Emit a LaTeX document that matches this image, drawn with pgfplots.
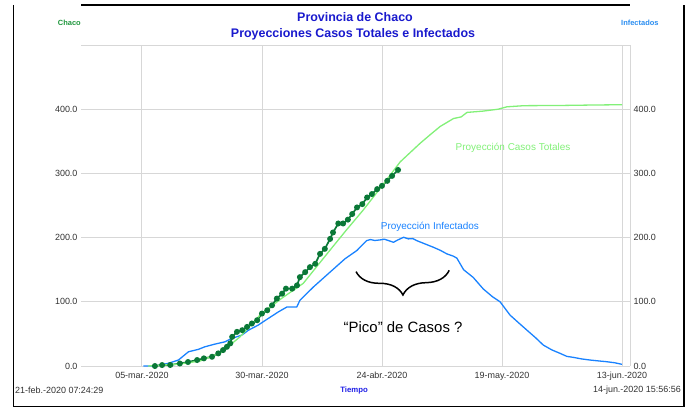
\documentclass[border=0pt]{standalone}
\usepackage{fontspec}
\setmainfont{Liberation Sans}
\usepackage{pgfplots}
\pgfplotsset{compat=1.18}
\usetikzlibrary{decorations.pathreplacing}
\definecolor{titleblue}{RGB}{25,25,205}
\definecolor{dgreen}{RGB}{10,120,55}
\definecolor{lgreen}{RGB}{130,240,120}
\definecolor{pblue}{RGB}{25,130,255}
\definecolor{chacogreen}{RGB}{30,150,60}
\definecolor{infblue}{RGB}{40,140,240}
\definecolor{tiempoblue}{RGB}{30,30,230}
\definecolor{gridgray}{RGB}{215,215,215}
\definecolor{ticktext}{RGB}{50,50,50}
\begin{document}
\begin{tikzpicture}[x=1bp,y=1bp]
\useasboundingbox (0,0) rectangle (694,408);
% outer frame
\draw[black, line width=1.1bp] (13.3,403) -- (13.3,1.3) -- (684,1.3) -- (684,403);
\draw[black, line width=1.1bp] (81,403) -- (630,403);
\begin{axis}[
  at={(81bp,42bp)}, anchor=south west,
  scale only axis, width=549bp, height=321bp,
  xmin=0.309, xmax=114.664, ymin=0, ymax=500,
  axis line style={draw=none},
  major tick length=0pt,
  xtick={13,38,63,88,113},
  xticklabels={05-mar.-2020,30-mar.-2020,24-abr.-2020,19-may.-2020,13-jun.-2020},
  ytick={0,100,200,300,400},
  grid=major,
  grid style={gridgray, line width=0.9bp},
  /pgf/number format/assume math mode=true,
  yticklabel style={font=\fontsize{9}{10}\selectfont, text=ticktext,
    /pgf/number format/fixed, /pgf/number format/fixed zerofill, /pgf/number format/precision=1},
  xticklabel style={font=\fontsize{9}{10}\selectfont, text=ticktext, yshift=-2.5bp},
  clip=false,
]
\draw[gridgray, line width=0.9bp] (rel axis cs:0,1) -- (rel axis cs:1,1) -- (rel axis cs:1,0);
% Proyeccion Infectados
\addplot[pblue, line width=1.3bp] coordinates {
(13.3,0) (15.7,0) (18.5,4.2) (20.6,9.3) (22.7,22.2) (24.75,25.9) (26.1,29.9)
(28.2,34.1) (30.3,37.7) (31.7,42.9) (33.8,48.1) (35.2,55.8) (37.2,63.6)
(39.3,74) (41.4,84.2) (43.2,91.9) (45.25,91.9) (45.9,102.3) (48.7,123)
(51.8,143.7) (55.3,167) (57.75,179.8) (59.8,195.3) (60.6,197) (61.5,195.5)
(62.6,196.4) (63.5,197.5) (64.5,195) (65.4,192.7) (66.2,196) (67.5,200.5)
(68.5,198) (69.4,198.5) (70.25,195.3) (72,190) (73.7,185) (75.2,180)
(76.5,174.7) (77.9,171) (78.6,168) (80.0,150) (82.0,138) (84.1,120)
(86,108) (87.6,100) (89.7,79.1) (91.5,67) (93.2,55.8) (95,44)
(96.6,32.6) (98.4,25) (100.1,19.7) (101.5,15) (102.9,13.4) (104.6,11)
(106.35,9.3) (108,8) (109.8,6.7) (111.5,5) (113.0,2.6)
};
% Casos reales
\addplot[dgreen, line width=1.7bp, mark=*, mark size=2.1bp] coordinates {
(15.7,0) (17.2,1.5) (18.9,1.6) (20.9,3.9) (22.6,6.2) (24.5,9.3) (25.9,11.9)
(27.6,14.4) (28.9,19.7) (29.9,24.8) (30.7,29.9) (31.4,35.2) (31.8,45.4)
(32.8,53.2) (33.9,55.8) (34.9,60.9) (35.9,66.2) (37.0,71.3) (38.0,81.7)
(39.1,86.8) (40.1,94.6) (41.1,105) (42.2,112.7) (43.0,120.5) (44.3,120.5)
(45.3,125.6) (45.9,138.4) (47.0,146.2) (48.0,154) (49.1,159.2) (50.1,174.7)
(51.1,182.5) (52.2,198) (52.8,208) (53.9,222) (54.9,222) (55.9,228)
(56.8,236.7) (57.8,247) (58.9,252.2) (59.9,262.5) (60.9,267.8) (62.0,275.5)
(63.0,280.6) (64.1,288.4) (65.1,296.1) (66.35,305.4)
};
% Proyeccion Casos Totales
\addplot[lgreen, line width=1.3bp] coordinates {
(14.3,0) (20.9,3.1) (25.1,7.8) (29.3,20.2) (33.4,45.2) (37.6,79.4)
(42.1,105.4) (46.6,128.7) (52.2,180.7) (55.5,211) (59.1,243) (62.6,276.6)
(66.8,318) (70.9,346.6) (73,360) (75.1,373) (77.9,385.5) (79.5,388)
(80.7,395) (84,397) (87.2,400) (89.0,403.7) (92.6,405.5) (100,405.8)
(106.8,406.5) (113.0,407)
};
\node[text=lgreen, font=\fontsize{10}{12}\selectfont] at (axis cs:90.3,339.5) {Proyección Casos Totales};
\node[text=pblue, font=\fontsize{10}{12}\selectfont] at (axis cs:73.0,216.5) {Proyección Infectados};
\node[text=black, font=\fontsize{15}{18}\selectfont] at (axis cs:67.4,60.7) {“Pico” de Casos ?};
\draw[black, line width=1.5bp, decorate, decoration={brace, mirror, amplitude=24bp}]
  (axis cs:57.6,147) -- (axis cs:77.0,149);
\end{axis}
\begin{axis}[
  at={(81bp,42bp)}, anchor=south west,
  scale only axis, width=549bp, height=321bp,
  xmin=0.309, xmax=114.664, ymin=0, ymax=500,
  hide x axis,
  axis y line*=right,
  y axis line style={draw=none},
  major tick length=0pt,
  ytick={0,100,200,300,400},
  /pgf/number format/assume math mode=true,
  yticklabel style={font=\fontsize{9}{10}\selectfont, text=ticktext,
    /pgf/number format/fixed, /pgf/number format/fixed zerofill, /pgf/number format/precision=1},
]
\addplot[draw=none] coordinates {(1,0)};
\end{axis}
\node[font=\bfseries\fontsize{12.5}{15}\selectfont, text=titleblue] at (355,391) {Provincia de Chaco};
\node[font=\bfseries\fontsize{12.5}{15}\selectfont, text=titleblue] at (353,374) {Proyecciones Casos Totales e Infectados};
\node[font=\bfseries\fontsize{7.5}{9}\selectfont, text=chacogreen, anchor=east, inner sep=0pt] at (81,385) {Chaco};
\node[font=\bfseries\fontsize{7.5}{9}\selectfont, text=infblue, anchor=west, inner sep=0pt] at (621,385) {Infectados};
\node[font=\fontsize{9}{10}\selectfont, text=ticktext, anchor=west, inner sep=0pt] at (15,18) {21-feb.-2020 07:24:29};
\node[font=\fontsize{9}{10}\selectfont, text=ticktext, anchor=east, inner sep=0pt] at (681,18) {14-jun.-2020 15:56:56};
\node[font=\bfseries\fontsize{7.8}{9}\selectfont, text=tiempoblue, inner sep=0pt] at (354,18) {Tiempo};
\end{tikzpicture}
\end{document}
